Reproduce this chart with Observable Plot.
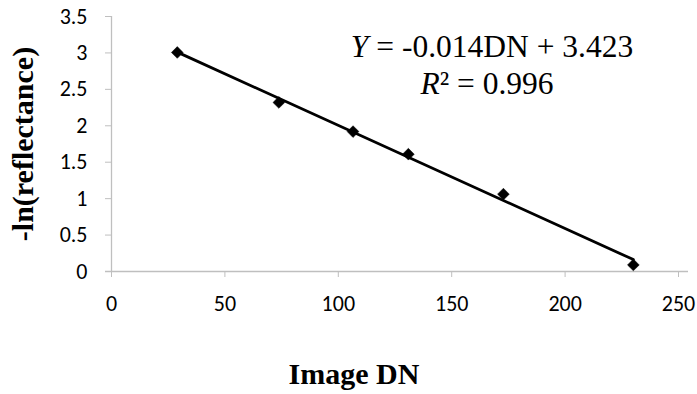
<!DOCTYPE html>
<html>
<head>
<meta charset="utf-8">
<script src="https://cdn.jsdelivr.net/npm/d3@7"></script>
<script src="https://cdn.jsdelivr.net/npm/@observablehq/plot@0.6"></script>
<style>
  html, body { margin: 0; padding: 0; background: #fff; }
  #chart svg { display: block; }
</style>
</head>
<body>
<div id="chart"></div>
<script>
// Data
const imageDN = [29, 73.8, 106.5, 130.9, 172.8, 230.1];
const negLnReflectance = [3.006, 2.32, 1.92, 1.61, 1.062, 0.09];
const xTicks = [0, 50, 100, 150, 200, 250];
const yTicks = [0, 0.5, 1, 1.5, 2, 2.5, 3, 3.5];
const equationText = "Y = -0.014DN + 3.423";
const r2Text = "R² = 0.996";
const xTitle = "Image DN";
const yTitle = "-ln(reflectance)";

const points = imageDN.map((d, i) => ({dn: d, v: negLnReflectance[i]}));

const tickFont = "Carlito, Calibri, 'Liberation Sans', sans-serif";
const serif = "'Liberation Serif', 'Times New Roman', serif";
const gray = "#bfbfbf";

const chart = Plot.plot({
  width: 697,
  height: 394,
  marginLeft: 111,
  marginRight: 19,
  marginTop: 16,
  marginBottom: 123,
  style: {fontFamily: tickFont, fontSize: "22px", color: "#000", background: "#fff"},
  x: {domain: [0, 250], ticks: xTicks},
  y: {domain: [0, 3.5], ticks: yTicks},
  marks: [
    Plot.ruleY([0], {stroke: gray, strokeWidth: 1.3, insetLeft: -6, insetRight: -10}),
    Plot.ruleX([0], {stroke: gray, strokeWidth: 1.3}),
    Plot.axisX({ticks: xTicks, tickSize: 6, tickPadding: 18, stroke: gray, fill: "#000", fontSize: 22, label: null, tickFormat: d => String(d)}),
    Plot.axisY({ticks: yTicks, tickSize: 6, tickPadding: 18, stroke: gray, fill: "#000", fontSize: 22, label: null, tickFormat: d => String(d)}),
    Plot.linearRegressionY(points, {x: "dn", y: "v", ci: 0, stroke: "#000", strokeWidth: 2.8}),
    Plot.dot(points, {x: "dn", y: "v", symbol: "diamond2", r: 5.3, fill: "#000", stroke: "#000", strokeWidth: 0.5}),
    Plot.text([equationText], {frameAnchor: "top", dx: 97, dy: 40, lineAnchor: "bottom", textAnchor: "middle", fontFamily: serif, fontSize: 31.5, fill: "#000", className: "eq1"}),
    Plot.text([r2Text], {frameAnchor: "top", dx: 92, dy: 77, lineAnchor: "bottom", textAnchor: "middle", fontFamily: serif, fontSize: 31.5, fill: "#000", className: "eq2"}),
    Plot.text([xTitle], {frameAnchor: "bottom", dx: -41, dy: 112, lineAnchor: "bottom", textAnchor: "middle", fontFamily: serif, fontSize: 30, fontWeight: "bold", fill: "#000"}),
    Plot.text([yTitle], {frameAnchor: "left", dx: -88, rotate: -90, lineAnchor: "middle", textAnchor: "middle", fontFamily: serif, fontSize: 30, fontWeight: "bold", fill: "#000"})
  ]
});

document.getElementById("chart").appendChild(chart);

// Italicize the variable letters in the equation annotations
function richify(cls, parts) {
  const t = d3.select(chart).select("g." + cls + " text");
  if (t.empty()) return;
  t.text(null);
  parts.forEach(([s, italic]) => {
    const ts = t.append("tspan").text(s);
    if (italic) ts.attr("font-style", "italic");
  });
}
richify("eq1", [[equationText.slice(0, 1), true], [equationText.slice(1), false]]);
richify("eq2", [[r2Text.slice(0, 1), true], [r2Text.slice(1), false]]);
</script>
</body>
</html>
